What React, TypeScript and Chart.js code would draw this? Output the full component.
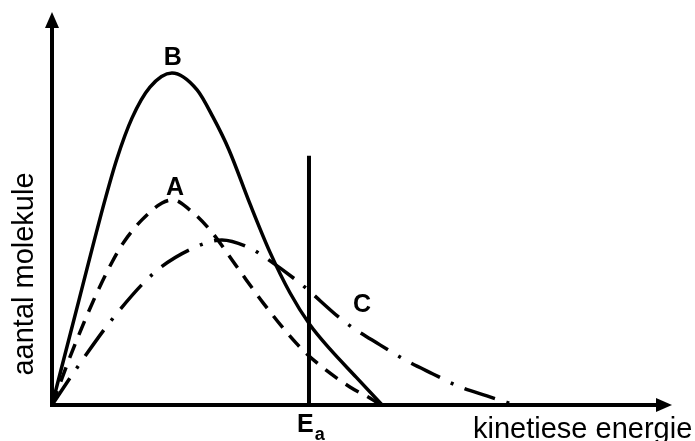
import React, { useEffect, useRef } from "react";
import { Chart, registerables } from "chart.js";

Chart.register(...registerables);

// Axis ranges (arbitrary units: kinetic energy / number of molecules)
const X_MAX = 20;
const Y_MAX = 100;

// Curve B (solid)
const curveBEnergy = [0, 0.87, 1.71, 2.1, 2.58, 3.16, 3.87, 4.68, 5.19, 5.71, 6.39, 7.03, 7.68, 8.32, 8.97, 9.81, 10.65];
const curveBCount = [0, 26.7, 52.2, 62.8, 73.0, 80.9, 84.5, 80.2, 73.3, 64.9, 51.1, 38.9, 28.5, 20.4, 14.2, 7.1, 0];

// Curve A (dashed)
const curveAEnergy = [0, 0.71, 1.39, 1.94, 2.32, 2.9, 3.55, 3.9, 4.45, 5.1, 5.97, 6.81, 7.87, 8.55, 9.61, 10.35, 10.58];
const curveACount = [0, 14.8, 27.5, 36.4, 41.5, 47.1, 51.4, 52.2, 49.6, 44.5, 35.1, 26.0, 15.8, 10.7, 4.6, 1.3, 0];

// Curve C (dash-dot)
const curveCEnergy = [0, 0.87, 2.0, 3.32, 4.55, 5.48, 6.39, 6.81, 8.0, 9.45, 10.58, 11.45, 12.29, 13.16, 14.03, 14.94];
const curveCCount = [0, 10.2, 22.4, 33.8, 39.9, 42.0, 39.9, 37.9, 31.0, 21.1, 15.3, 11.2, 7.9, 4.6, 2.3, 0];

// Activation energy marker
const activationEnergy = 8.29;
const activationLineTop = 63.4;

// Curve labels and where they sit (energy, count at text baseline)
const curveLabels = ["A", "B", "C"];
const curveLabelEnergy = [3.97, 3.9, 10.0];
const curveLabelCount = [53.4, 86.5, 23.7];

const xAxisTitle = "kinetiese energie";
const yAxisTitle = "aantal molekule";
const activationMain = "E";
const activationSub = "a";

const toPoints = (xs: number[], ys: number[]) => xs.map((x, i) => ({ x, y: ys[i] }));

const decorPlugin = {
  id: "decor",
  afterDatasetsDraw(chart: any) {
    const { ctx, chartArea, scales } = chart;
    const xs = scales.x;
    const ys = scales.y;
    const x0 = xs.getPixelForValue(0);
    const y0 = ys.getPixelForValue(0);
    ctx.save();
    ctx.strokeStyle = "#000";
    ctx.fillStyle = "#000";
    ctx.lineWidth = 4;
    ctx.lineCap = "butt";
    const arrowLen = 16;
    const arrowHalf = 7;
    // y axis
    ctx.beginPath();
    ctx.moveTo(x0, y0 + 2);
    ctx.lineTo(x0, chartArea.top + arrowLen);
    ctx.stroke();
    ctx.beginPath();
    ctx.moveTo(x0, chartArea.top);
    ctx.lineTo(x0 - arrowHalf, chartArea.top + arrowLen);
    ctx.lineTo(x0 + arrowHalf, chartArea.top + arrowLen);
    ctx.closePath();
    ctx.fill();
    // x axis
    ctx.beginPath();
    ctx.moveTo(x0 - 2, y0);
    ctx.lineTo(chartArea.right - arrowLen, y0);
    ctx.stroke();
    ctx.beginPath();
    ctx.moveTo(chartArea.right, y0);
    ctx.lineTo(chartArea.right - arrowLen, y0 - arrowHalf);
    ctx.lineTo(chartArea.right - arrowLen, y0 + arrowHalf);
    ctx.closePath();
    ctx.fill();

    // curve labels
    ctx.font = "bold 25px 'Liberation Sans', Arial, sans-serif";
    ctx.textAlign = "center";
    ctx.textBaseline = "alphabetic";
    curveLabels.forEach((t, i) => {
      ctx.fillText(t, xs.getPixelForValue(curveLabelEnergy[i]), ys.getPixelForValue(curveLabelCount[i]));
    });

    // E_a
    const ex = xs.getPixelForValue(activationEnergy);
    ctx.textAlign = "left";
    ctx.font = "bold 25px 'Liberation Sans', Arial, sans-serif";
    ctx.fillText(activationMain, ex - 12, y0 + 27);
    const ew = ctx.measureText(activationMain).width;
    ctx.font = "bold 18px 'Liberation Sans', Arial, sans-serif";
    ctx.fillText(activationSub, ex - 12 + ew + 1, y0 + 35);

    // axis titles
    ctx.font = "29px 'Liberation Sans', Arial, sans-serif";
    ctx.textAlign = "left";
    ctx.fillText(xAxisTitle, 473, y0 + 33);
    ctx.save();
    ctx.translate(33, 274);
    ctx.rotate(-Math.PI / 2);
    ctx.textAlign = "center";
    ctx.fillText(yAxisTitle, 0, 0);
    ctx.restore();

    ctx.restore();
  },
};

export default function App() {
  const canvasRef = useRef<HTMLCanvasElement | null>(null);

  useEffect(() => {
    document.body.style.margin = "0";
    const canvas = canvasRef.current;
    if (!canvas) return;
    const curveStyle = {
      borderColor: "#000",
      borderWidth: 3.5,
      pointRadius: 0,
      fill: false,
      cubicInterpolationMode: "monotone" as const,
      borderCapStyle: "butt" as const,
    };
    const chart = new Chart(canvas, {
      type: "line",
      data: {
        datasets: [
          { ...curveStyle, label: "B", data: toPoints(curveBEnergy, curveBCount) },
          { ...curveStyle, label: "A", data: toPoints(curveAEnergy, curveACount), borderDash: [15, 10] },
          { ...curveStyle, label: "C", data: toPoints(curveCEnergy, curveCCount), borderDash: [32, 12, 3, 12] },
          {
            label: "Ea",
            data: toPoints([activationEnergy, activationEnergy], [0, activationLineTop]),
            borderColor: "#000",
            borderWidth: 4,
            pointRadius: 0,
            tension: 0,
            fill: false,
          },
        ],
      },
      options: {
        responsive: false,
        animation: false,
        devicePixelRatio: 1,
        layout: { padding: { left: 52, right: 23, top: 12, bottom: 36 } },
        plugins: { legend: { display: false }, tooltip: { enabled: false } },
        scales: {
          x: { type: "linear", min: 0, max: X_MAX, display: false },
          y: { type: "linear", min: 0, max: Y_MAX, display: false },
        },
      },
      plugins: [decorPlugin],
    });
    return () => chart.destroy();
  }, []);

  return (
    <div style={{ width: 695, height: 441, background: "#fff" }}>
      <canvas ref={canvasRef} width={695} height={441} />
    </div>
  );
}
